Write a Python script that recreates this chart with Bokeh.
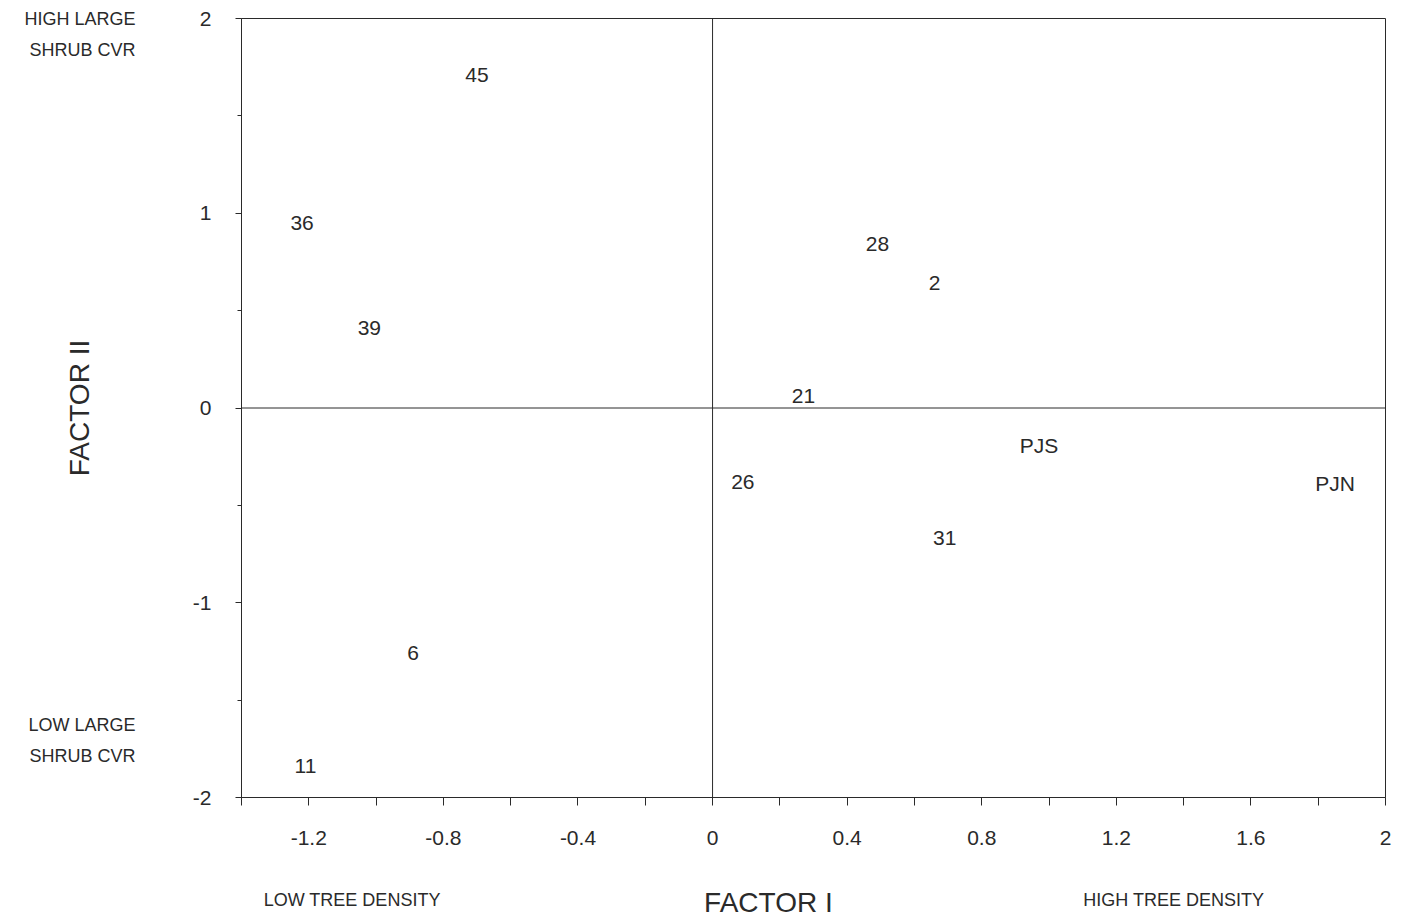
from bokeh.plotting import figure
from bokeh.models import FixedTicker, Span, ColumnDataSource, Range1d, LinearAxis
from bokeh.embed import file_html
from bokeh.resources import INLINE
from bokeh.core.properties import value

# Data
site_labels = ["45", "36", "39", "6", "11", "28", "2", "21", "PJS", "26", "PJN", "31"]
factor1 = [-0.70, -1.22, -1.02, -0.89, -1.21, 0.49, 0.66, 0.27, 0.97, 0.09, 1.85, 0.69]
factor2 = [1.71, 0.95, 0.41, -1.26, -1.84, 0.84, 0.64, 0.06, -0.19, -0.38, -0.39, -0.67]

x_major = [-1.2, -0.8, -0.4, 0, 0.4, 0.8, 1.2, 1.6, 2]
x_minor = [-1.4, -1.0, -0.6, -0.2, 0.2, 0.6, 1.0, 1.4, 1.8]
y_major = [-2, -1, 0, 1, 2]
y_minor = [-1.5, -0.5, 0.5, 1.5]

# Descriptive end labels of the two factors
y_end_texts = ["HIGH LARGE", "SHRUB CVR", "LOW LARGE", "SHRUB CVR"]
y_end_pos = [1.995, 1.836, -1.626, -1.785]
x_end_texts = ["LOW TREE DENSITY", "HIGH TREE DENSITY"]
x_end_pos = [-1.071, 1.371]
x_title_pos = [0.166]

FONT = "Liberation Sans"
INK = "#2a2a2a"

p = figure(width=1407, height=924, output_backend="svg", toolbar_location=None,
           x_range=Range1d(-1.4, 2.0), y_range=Range1d(-2.0, 2.0),
           min_border_left=241, min_border_right=22, min_border_top=18, min_border_bottom=127)
p.background_fill_color = "white"
p.border_fill_color = "white"
p.outline_line_color = INK
p.outline_line_width = 1
p.xgrid.visible = False
p.ygrid.visible = False

p.xaxis.ticker = FixedTicker(ticks=x_major, minor_ticks=x_minor)
p.yaxis.ticker = FixedTicker(ticks=y_major, minor_ticks=y_minor)
p.xaxis.major_label_overrides = {v: ("%g" % v) for v in x_major}
p.yaxis.major_label_overrides = {v: ("%g" % v) for v in y_major}
for ax in (p.xaxis, p.yaxis):
    ax.axis_line_color = INK
    ax.major_tick_line_color = INK
    ax.minor_tick_line_color = INK
    ax.major_tick_in = 0
    ax.minor_tick_in = 0
    ax.major_label_text_font = FONT
    ax.major_label_text_font_size = "21px"
    ax.major_label_text_color = INK
p.xaxis.major_tick_out = 8
p.xaxis.minor_tick_out = 8
p.xaxis.major_label_standoff = 25
p.yaxis.major_tick_out = 6
p.yaxis.minor_tick_out = 4
p.yaxis.major_label_standoff = 24

p.yaxis.axis_label = "FACTOR II"
p.yaxis.axis_label_text_font = FONT
p.yaxis.axis_label_text_font_size = "28px"
p.yaxis.axis_label_text_font_style = "normal"
p.yaxis.axis_label_text_color = INK
p.yaxis.axis_label_standoff = 95


def text_axis(ticks, texts, size, standoff, side):
    ax = LinearAxis(ticker=FixedTicker(ticks=ticks, minor_ticks=[]),
                    major_label_overrides={t: s for t, s in zip(ticks, texts)},
                    axis_line_color=None, major_tick_line_color=None,
                    minor_tick_line_color=None, major_tick_out=0, major_tick_in=0,
                    major_label_standoff=standoff, major_label_text_font=FONT,
                    major_label_text_font_size=size, major_label_text_color=INK)
    p.add_layout(ax, side)
    return ax


text_axis(y_end_pos, y_end_texts, "18px", -75, "left")
text_axis(x_end_pos, x_end_texts, "18px", 42, "below")
text_axis(x_title_pos, ["FACTOR I"], "28px", -26, "below")

p.add_layout(Span(location=0, dimension="height", line_color=INK, line_width=1))
p.add_layout(Span(location=0, dimension="width", line_color=INK, line_width=1))

src = ColumnDataSource(dict(x=factor1, y=factor2, t=site_labels))
p.text(x="x", y="y", text="t", source=src, text_align="center", text_baseline="middle",
       text_font=value(FONT), text_font_size="21px", text_color=INK)

open("out.html", "w").write(file_html(p, INLINE))
